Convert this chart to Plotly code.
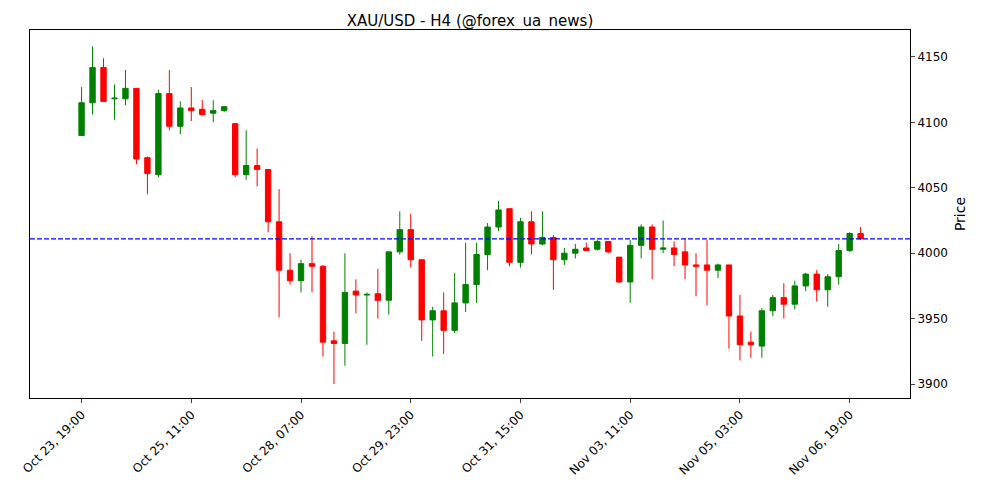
import plotly.graph_objects as go

# H4 candles, indexed 0..71 (weekend gaps removed)
opens = [4090, 4115, 4142, 4118, 4118, 4126, 4073, 4060, 4122, 4097,
         4111, 4110, 4107, 4109, 4099, 4060, 4067, 4064, 4024, 3987,
         3979, 3992, 3990, 3933, 3931, 3971, 3968, 3969, 3964, 4001,
         4018, 3995, 3949, 3956, 3941, 3962, 3976, 3999, 4020, 4034,
         3993, 4024, 4007, 4012, 3995, 4000, 4004, 4003, 4009, 3997,
         3978, 4006, 4020, 4003, 4004, 4001, 3991, 3991, 3987, 3991,
         3952, 3932, 3929, 3956, 3966, 3961, 3975, 3984, 3972, 3982,
         4002, 4015]
highs = [4127, 4158, 4149, 4129, 4140, 4126, 4074, 4125, 4140, 4116,
         4127, 4117, 4117, 4112, 4099, 4094, 4080, 4064, 4049, 4000,
         3995, 4013, 3991, 3940, 4000, 3980, 3970, 3988, 4001, 4032,
         4030, 3995, 3959, 3970, 3985, 4008, 4008, 4023, 4040, 4034,
         4027, 4032, 4032, 4014, 4004, 4007, 4008, 4010, 4009, 3997,
         4010, 4022, 4022, 4025, 4009, 4011, 4000, 4010, 3992, 3991,
         3968, 3940, 3958, 3968, 3977, 3979, 3985, 3987, 3984, 4007,
         4016, 4020]
lows = [4090, 4106, 4116, 4102, 4113, 4068, 4045, 4058, 4094, 4091,
        4101, 4105, 4100, 4108, 4058, 4056, 4051, 4016, 3951, 3976,
        3970, 3970, 3921, 3900, 3914, 3954, 3930, 3950, 3953, 3999,
        3989, 3933, 3921, 3923, 3939, 3955, 3962, 3987, 4017, 3990,
        3989, 3999, 4006, 3972, 3991, 3996, 4002, 4002, 4000, 3977,
        3962, 3996, 3980, 4000, 3990, 3980, 3967, 3960, 3981, 3927,
        3918, 3920, 3920, 3952, 3950, 3957, 3971, 3963, 3959, 3976,
        4001, 4010]
closes = [4115, 4142, 4116, 4118.5, 4126, 4072, 4061, 4122, 4097, 4111,
          4109, 4106, 4109, 4112, 4060, 4067, 4064, 4024, 3987, 3979,
          3992, 3990, 3932, 3931, 3970, 3968, 3968.5, 3964, 4001, 4018,
          3995, 3949, 3956, 3941, 3962, 3976, 3999, 4020, 4033, 3993,
          4024, 4007, 4012, 3995, 4000, 4003, 4002, 4009, 4001, 3978,
          4006, 4020, 4003, 4004, 3999, 3991, 3990, 3987, 3991, 3952,
          3930, 3930, 3956, 3966, 3961, 3975, 3984, 3972, 3982, 4002,
          4015, 4011]
last_price = 4011

tick_pos = [0, 10, 20, 30, 40, 50, 60, 70]
tick_labels = ["Oct 23, 19:00", "Oct 25, 11:00", "Oct 28, 07:00", "Oct 29, 23:00",
               "Oct 31, 15:00", "Nov 03, 11:00", "Nov 05, 03:00", "Nov 06, 19:00"]

x = list(range(len(opens)))

fig = go.Figure()
fig.add_trace(go.Candlestick(
    x=x, open=opens, high=highs, low=lows, close=closes,
    increasing=dict(line=dict(color="#008000", width=1), fillcolor="#008000"),
    decreasing=dict(line=dict(color="#ff0000", width=1), fillcolor="#ff0000"),
    whiskerwidth=0, showlegend=False,
))
fig.add_hline(y=last_price, line=dict(color="blue", width=1.2, dash="5px,2px"))

# page body adds an 8px offset, so margins are shifted to compensate
fig.update_layout(
    width=1000, height=500,
    margin=dict(l=22, r=98, t=22, b=110),
    paper_bgcolor="white", plot_bgcolor="white",
    font=dict(family="DejaVu Sans", size=12, color="black"),
    title=dict(text="XAU/USD - H4 (@forex_ua_news)", xref="paper", x=0.5, xanchor="center",
               y=0.986, yanchor="top", font=dict(size=15)),
)
fig.update_xaxes(
    range=[-4.7, 75.5], tickvals=tick_pos, ticktext=tick_labels, tickangle=-45,
    rangeslider_visible=False, showgrid=False, zeroline=False, automargin=False,
    showline=True, linecolor="black", mirror=True, ticks="outside", ticklen=4,
)
fig.update_yaxes(
    range=[3889.3, 4170.6], side="right", title=dict(text="Price", standoff=8),
    dtick=50, showgrid=False, zeroline=False, automargin=False,
    showline=True, linecolor="black", mirror=True, ticks="outside", ticklen=4,
)

fig.write_html("out.html")
